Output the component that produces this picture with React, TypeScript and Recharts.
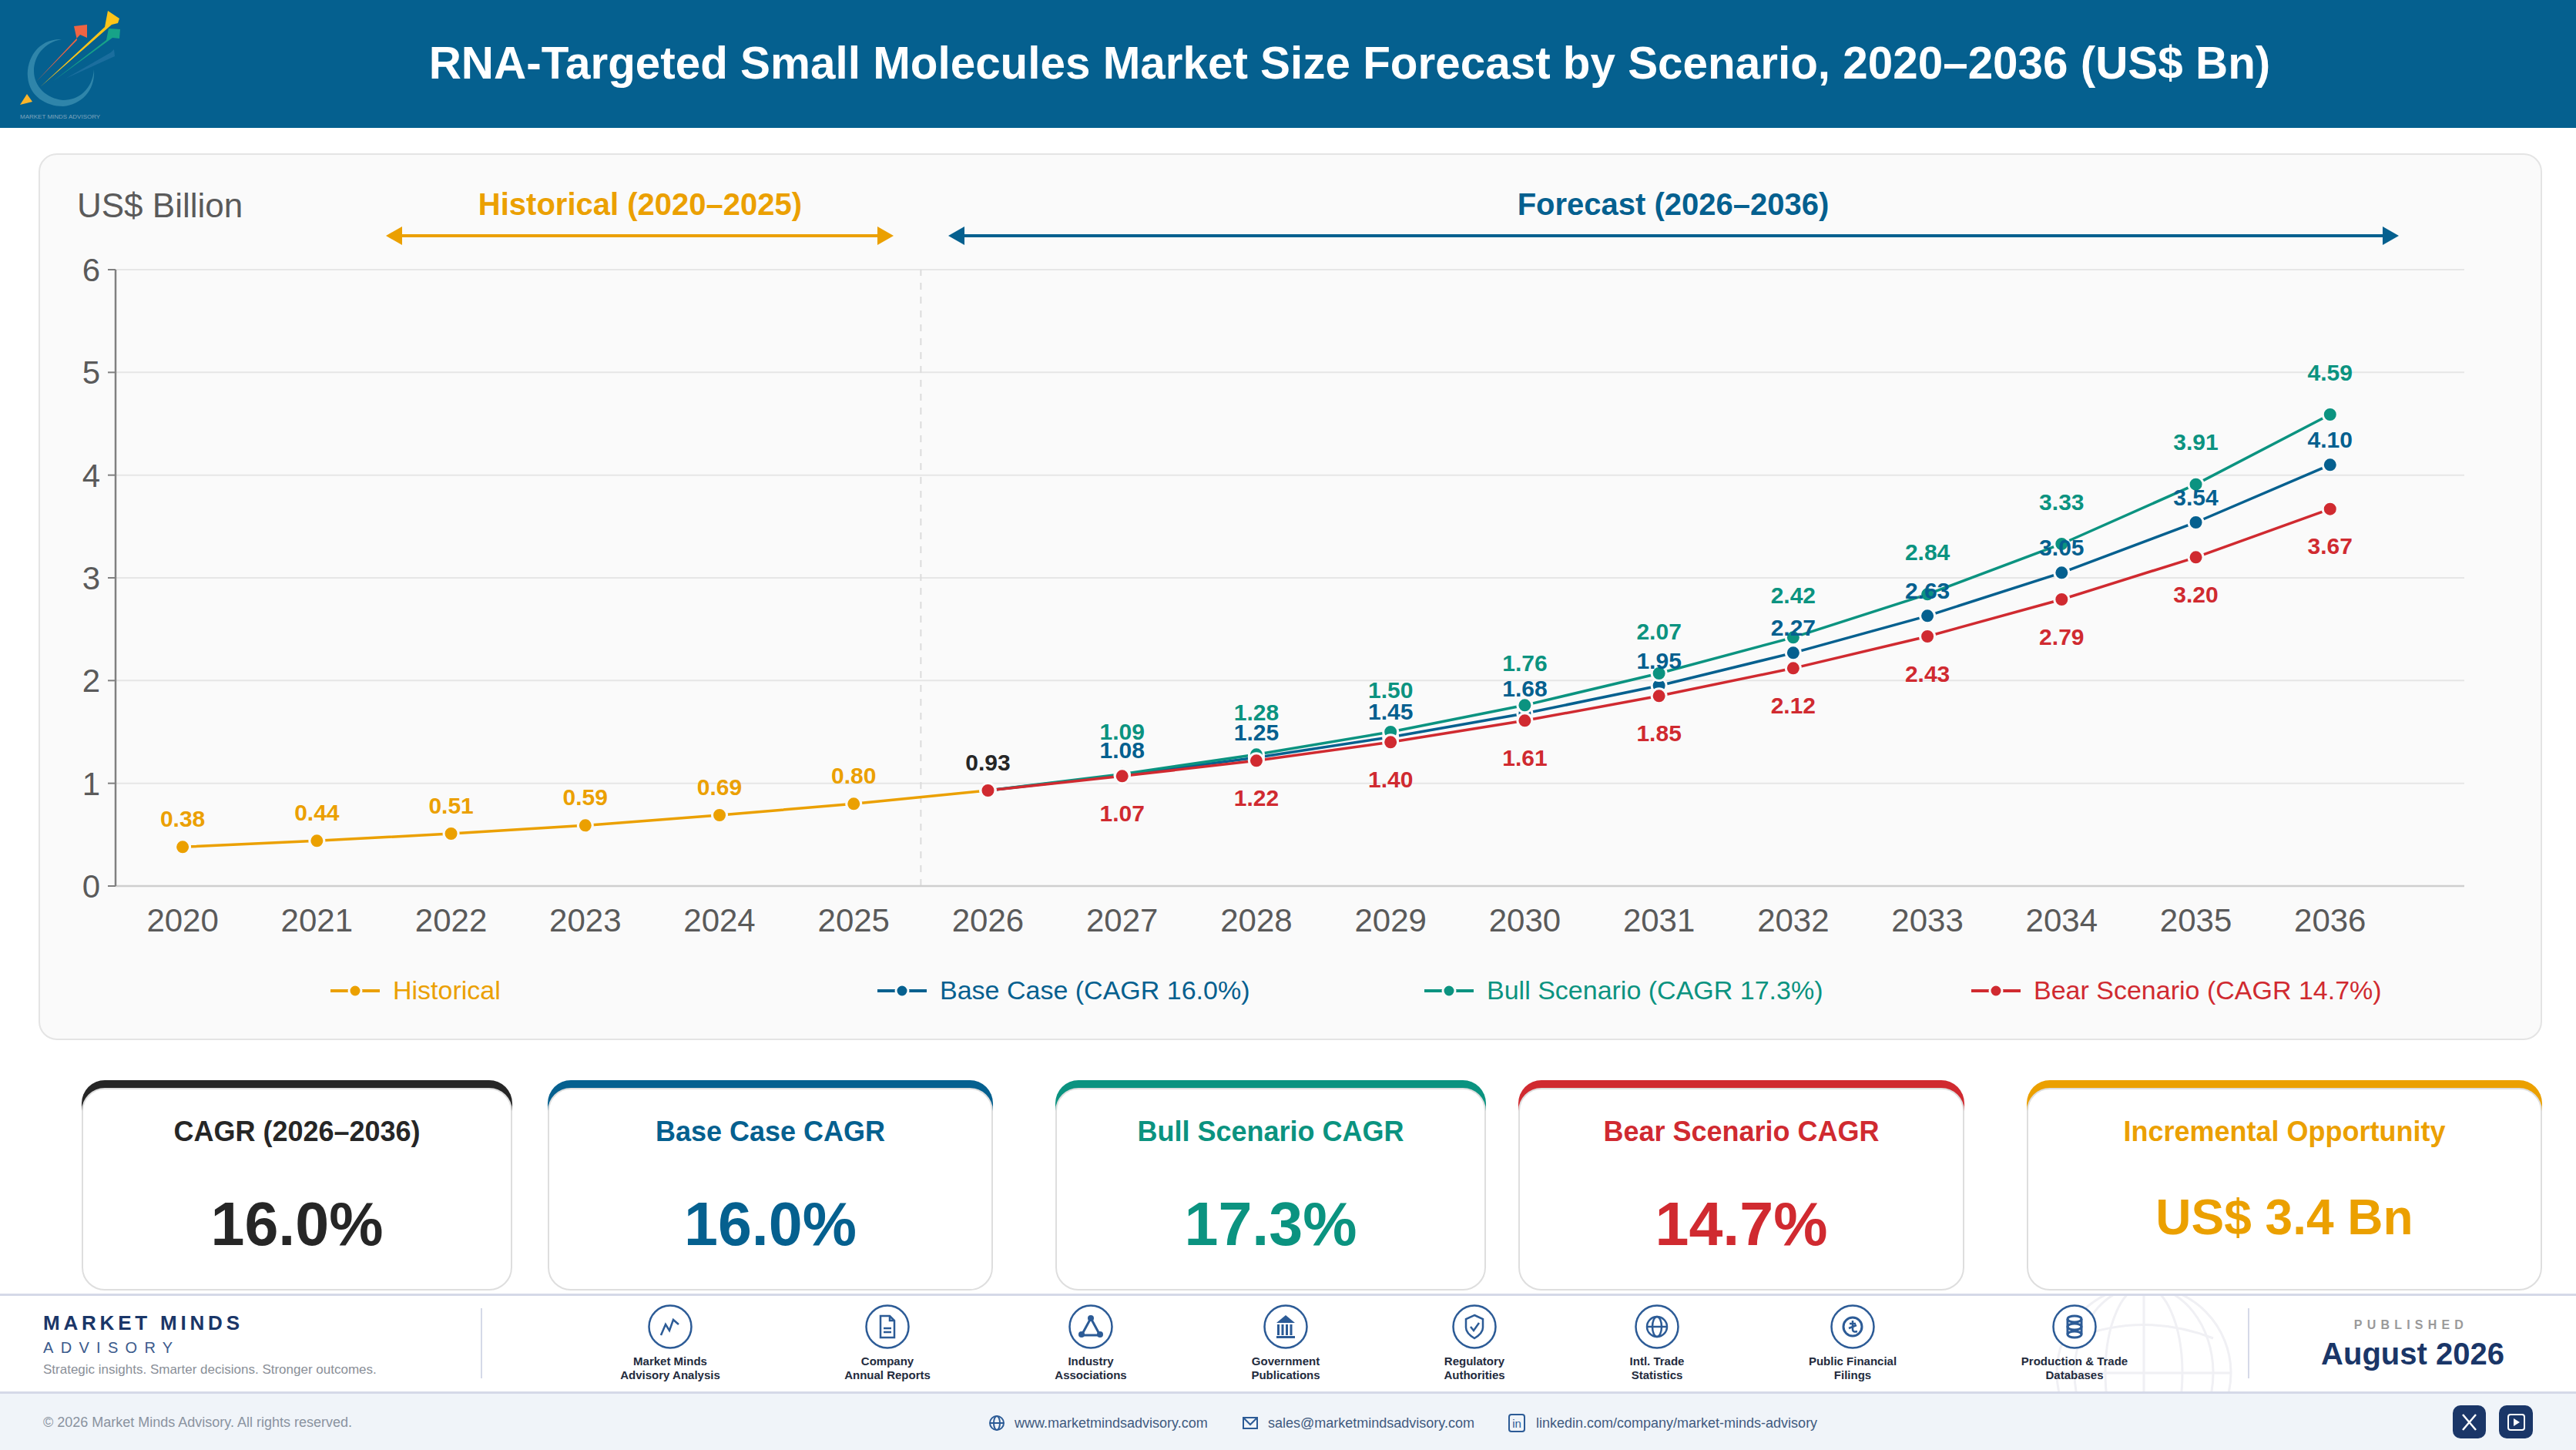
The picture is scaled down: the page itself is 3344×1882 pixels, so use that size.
import React from "react";
import { LineChart, Line, XAxis, YAxis, CartesianGrid, ReferenceLine, Legend, LabelList } from "recharts";

const years = [2020, 2021, 2022, 2023, 2024, 2025, 2026, 2027, 2028, 2029, 2030, 2031, 2032, 2033, 2034, 2035, 2036];
const historical = [0.38, 0.44, 0.51, 0.59, 0.69, 0.8, 0.93, null, null, null, null, null, null, null, null, null, null];
const baseCase = [null, null, null, null, null, null, 0.93, 1.08, 1.25, 1.45, 1.68, 1.95, 2.27, 2.63, 3.05, 3.54, 4.1];
const bullCase = [null, null, null, null, null, null, 0.93, 1.09, 1.28, 1.5, 1.76, 2.07, 2.42, 2.84, 3.33, 3.91, 4.59];
const bearCase = [null, null, null, null, null, null, 0.93, 1.07, 1.22, 1.4, 1.61, 1.85, 2.12, 2.43, 2.79, 3.2, 3.67];
const yTicks = [0, 1, 2, 3, 4, 5, 6];

const FONT = '"Liberation Sans", Arial, sans-serif';
const GOLD = "#eba000";
const BLUE = "#05608f";
const TEAL = "#0b9380";
const RED = "#d02a30";
const INK = "#262626";
const NAVY = "#1a3668";
const ICON = "#2c5b96";

const chartData = years.map((year, i) => ({
  year,
  historical: historical[i],
  base: baseCase[i],
  bull: bullCase[i],
  bear: bearCase[i],
}));

const series = [
  { key: "historical", name: "Historical", color: GOLD, dy: -37 },
  { key: "base", name: "Base Case (CAGR 16.0%)", color: BLUE, dy: -33 },
  { key: "bull", name: "Bull Scenario (CAGR 17.3%)", color: TEAL, dy: -55 },
  { key: "bear", name: "Bear Scenario (CAGR 14.7%)", color: RED, dy: 48 },
];

const cards = [
  { left: 106, right: 665, title: "CAGR (2026–2036)", value: "16.0%", color: INK },
  { left: 711, right: 1289, title: "Base Case CAGR", value: "16.0%", color: BLUE },
  { left: 1370, right: 1929, title: "Bull Scenario CAGR", value: "17.3%", color: TEAL },
  { left: 1971, right: 2550, title: "Bear Scenario CAGR", value: "14.7%", color: RED },
  { left: 2631, right: 3300, title: "Incremental Opportunity", value: "US$ 3.4 Bn", color: GOLD },
];

const sources = [
  { x: 870, lines: ["Market Minds", "Advisory Analysis"], icon: "trend" },
  { x: 1152, lines: ["Company", "Annual Reports"], icon: "doc" },
  { x: 1416, lines: ["Industry", "Associations"], icon: "network" },
  { x: 1669, lines: ["Government", "Publications"], icon: "bank" },
  { x: 1914, lines: ["Regulatory", "Authorities"], icon: "shield" },
  { x: 2151, lines: ["Intl. Trade", "Statistics"], icon: "globe" },
  { x: 2405, lines: ["Public Financial", "Filings"], icon: "coin" },
  { x: 2693, lines: ["Production & Trade", "Databases"], icon: "db" },
];

function SourceIcon({ kind }: { kind: string }) {
  const s = { fill: "none", stroke: ICON, strokeWidth: 2.5 };
  if (kind === "trend") return <path d="M-12 11 L-6 -3 L-1 5 L4 -9 L11 -3" {...s} />;
  if (kind === "doc")
    return (
      <g {...s}>
        <path d="M-9 -14 H3 L9 -8 V14 H-9 Z M3 -14 V-8 H9" />
        <path d="M-5 2 H5 M-5 7 H5" />
      </g>
    );
  if (kind === "network")
    return (
      <g>
        <path d="M0 -11 L-12 11 H12 Z" {...s} strokeWidth={3} />
        <circle cx={0} cy={-11} r={4} fill={ICON} />
        <circle cx={-12} cy={10} r={4} fill={ICON} />
        <circle cx={12} cy={10} r={4} fill={ICON} />
      </g>
    );
  if (kind === "bank")
    return (
      <g fill={ICON}>
        <path d="M0 -15 L12 -5 H-12 Z" />
        <rect x={-11} y={-3} width={3} height={14} />
        <rect x={-5.5} y={-3} width={3} height={14} />
        <rect x={0} y={-3} width={3} height={14} />
        <rect x={5.5} y={-3} width={3} height={14} />
        <rect x={-12} y={12} width={24} height={3} />
      </g>
    );
  if (kind === "shield")
    return (
      <g {...s}>
        <path d="M0 -15 L11 -10 V1 C11 8 5 12 0 15 C-5 12 -11 8 -11 1 V-10 Z" />
        <path d="M-5 0 L-1 5 L6 -5" />
      </g>
    );
  if (kind === "globe")
    return (
      <g {...s}>
        <circle r={13} />
        <ellipse rx={6} ry={13} />
        <path d="M-13 0 H13" />
      </g>
    );
  if (kind === "coin")
    return (
      <g {...s}>
        <circle r={12} strokeWidth={3} />
        <path d="M-4 -4 H4 M0 -8 V3 C0 7 3 7 6 6 M-5 2 L5 -2" />
      </g>
    );
  return (
    <g {...s} strokeWidth={3}>
      <ellipse cy={-10} rx={9} ry={4} />
      <ellipse cy={0} rx={9} ry={4} />
      <ellipse cy={10} rx={9} ry={4} />
      <path d="M-9 -10 V10 M9 -10 V10" />
    </g>
  );
}

function Logo() {
  return (
    <svg width={170} height={166} style={{ position: "absolute", left: 0, top: 0 }}>
      <path d="M80 51 C50 50 34 76 36 100 C38 125 60 138 82 138 C105 136 124 118 122 90 C120 116 102 130 82 130 C60 128 44 112 44 92 C44 72 58 55 80 51 Z" fill="#3a8fb0" opacity={0.8} />
      <path d="M47 106 L100 52 L96 34 L113 32 L113 49 L104 45 Z" fill="#ef6443" />
      <path d="M52 113 L136 35 L140 14 L155 24 L153 30 L145 32 Z" fill="#fcc419" />
      <path d="M68 106 L138 52 L141 37 L156 38 L155 50 L146 49 Z" fill="#17a388" />
      <path d="M85 102 L144 68 L148 64 L149 73 Z" fill="#2a78a8" opacity={0.6} />
      <path d="M26 136 L35 122 L42 132 Z" fill="#fcb52a" />
      <text x={26} y={154} fontSize={8} fill="#7fa5bd" fontFamily={FONT}>
        MARKET MINDS ADVISORY
      </text>
    </svg>
  );
}

function RangeArrow({ x1, x2, color }: { x1: number; x2: number; color: string }) {
  const y = 306;
  return (
    <g fill={color}>
      <rect x={x1 + 10} y={y - 2} width={x2 - x1 - 20} height={4} />
      <path d={`M${x1} ${y} L${x1 + 21} ${y - 12} V${y + 12} Z`} />
      <path d={`M${x2} ${y} L${x2 - 21} ${y - 12} V${y + 12} Z`} />
    </g>
  );
}

function renderLegend() {
  return (
    <div style={{ display: "flex", fontFamily: FONT }}>
      {series.map((item) => (
        <div key={item.key} style={{ width: 710, display: "flex", alignItems: "center", color: item.color, fontSize: 34 }}>
          <svg width={64} height={24} style={{ marginRight: 17 }}>
            <rect x={0} y={10} width={64} height={4} fill={item.color} />
            <circle cx={32} cy={12} r={8} fill={item.color} stroke="#fafafa" strokeWidth={3} />
          </svg>
          {item.name}
        </div>
      ))}
    </div>
  );
}

// the 0.93 hand-off point is labelled once, in ink rather than in the series colour
function valueLabel(key: string, color: string, dy: number) {
  return (props: any) => {
    const x = props.x ?? props.viewBox?.x;
    const y = props.y ?? props.viewBox?.y;
    const value = props.value;
    if (value == null) return null;
    const isStart = years[props.index] === 2026;
    if (isStart && key !== "historical") return null;
    return (
      <text x={x} y={y + dy} dy="0.36em" textAnchor="middle" fontFamily={FONT} fontSize={30} fontWeight={700} fill={isStart ? INK : color}>
        {Number(value).toFixed(2)}
      </text>
    );
  };
}

const abs = (style: React.CSSProperties): React.CSSProperties => ({ position: "absolute", ...style });
const centered = (x: number, y: number, style: React.CSSProperties): React.CSSProperties => ({
  position: "absolute",
  left: x,
  top: y,
  transform: "translate(-50%, -50%)",
  whiteSpace: "nowrap",
  ...style,
});

export default function App() {
  return (
    <div style={abs({ left: 0, top: 0, width: 3344, height: 1882, background: "#fff", overflow: "hidden", fontFamily: FONT })}>
      <div style={abs({ left: 0, top: 0, width: 3344, height: 166, background: BLUE })} />
      <Logo />
      <div style={centered(1752, 81, { color: "#fff", fontSize: 58.4, fontWeight: 700 })}>
        RNA-Targeted Small Molecules Market Size Forecast by Scenario, 2020–2036 (US$ Bn)
      </div>

      <div style={abs({ left: 50, top: 199, width: 3250, height: 1151, background: "#fafafa", border: "2px solid #e4e4e4", borderRadius: 24, boxSizing: "border-box" })} />
      <div style={abs({ left: 100, top: 242, color: "#5a5a5a", fontSize: 44, lineHeight: "50px" })}>US$ Billion</div>
      <div style={centered(831, 265, { color: GOLD, fontSize: 40, fontWeight: 700 })}>Historical (2020–2025)</div>
      <div style={centered(2172, 265, { color: BLUE, fontSize: 40, fontWeight: 700 })}>Forecast (2026–2036)</div>
      <svg width={3344} height={340} style={abs({ left: 0, top: 0 })}>
        <RangeArrow x1={501} x2={1160} color={GOLD} />
        <RangeArrow x1={1231} x2={3114} color={BLUE} />
      </svg>

      <div style={abs({ left: 0, top: 0 })}>
        <LineChart width={3344} height={1400} data={chartData} margin={{ top: 350, right: 145, bottom: 150, left: 50 }}>
          <CartesianGrid horizontal vertical={false} stroke="#e6e6e6" strokeWidth={2} />
          <XAxis
            dataKey="year"
            type="number"
            domain={[2019.5, 2037]}
            ticks={years}
            interval={0}
            height={100}
            tickLine={false}
            tickMargin={23}
            axisLine={{ stroke: "#cfcfcf", strokeWidth: 2.5 }}
            tick={{ fontFamily: FONT, fontSize: 42, fill: "#5a5a5a" }}
          />
          <YAxis
            domain={[0, 6]}
            ticks={yTicks}
            width={100}
            tickSize={10}
            tickMargin={10}
            axisLine={{ stroke: "#808080", strokeWidth: 2.5 }}
            tickLine={{ stroke: "#808080", strokeWidth: 2 }}
            tick={{ fontFamily: FONT, fontSize: 42, fill: "#5a5a5a" }}
          />
          <ReferenceLine x={2025.5} stroke="#dcdcdc" strokeWidth={2} strokeDasharray="9 9" />
          <Legend verticalAlign="middle" layout="horizontal" wrapperStyle={{ left: 429, top: 1266, width: 2840 }} content={renderLegend} />
          {series.map((s) => (
            <Line
              key={s.key}
              dataKey={s.key}
              name={s.name}
              stroke={s.color}
              strokeWidth={3.5}
              dot={{ r: 9.5, fill: s.color, stroke: "#fafafa", strokeWidth: 3 }}
              activeDot={false}
              connectNulls={false}
              isAnimationActive={false}
            />
          ))}
          {series.map((s) => (
            <Line key={`${s.key}-labels`} dataKey={s.key} stroke="none" dot={false} activeDot={false} legendType="none" isAnimationActive={false}>
              <LabelList dataKey={s.key} content={valueLabel(s.key, s.color, s.dy)} />
            </Line>
          ))}
        </LineChart>
      </div>

      {cards.map((c) => (
        <div
          key={c.title}
          style={abs({
            left: c.left,
            top: 1402,
            width: c.right - c.left,
            height: 273,
            borderRadius: 30,
            background: `linear-gradient(${c.color} 60px, transparent 60px)`,
          })}
        >
          <div style={abs({ left: 0, right: 0, top: 10, bottom: 0, background: "#fff", border: "2px solid #dedede", borderRadius: 30, boxSizing: "border-box" })} />
          <div style={centered((c.right - c.left) / 2, 67, { color: c.color, fontSize: 36, fontWeight: 700 })}>{c.title}</div>
          <div style={centered((c.right - c.left) / 2, c.value.length > 6 ? 178 : 187, { color: c.color, fontSize: c.value.length > 6 ? 64 : 79, fontWeight: 700 })}>
            {c.value}
          </div>
        </div>
      ))}

      <div style={abs({ left: 0, top: 1679, width: 3344, height: 3, background: "#d5d9e8" })} />
      <div style={abs({ left: 0, top: 1806, width: 3344, height: 76, background: "#f0f4f9", borderTop: "3px solid #d5d9e8", boxSizing: "border-box" })} />

      <svg width={3344} height={124} style={abs({ left: 0, top: 1682 })}>
        <g fill="none" stroke="#f0f0f4" strokeWidth={3} transform="translate(2783 100)">
          <circle r={113} />
          <ellipse rx={50} ry={113} />
          <ellipse rx={90} ry={113} />
          <path d="M-113 0 H113 M0 -113 V113" />
          <path d="M-90 -45 Q0 -80 90 -45" />
        </g>
        {sources.map((s) => (
          <g key={s.x} transform={`translate(${s.x} 40)`}>
            <circle r={27.5} fill="#fff" stroke={ICON} strokeWidth={2.5} />
            <SourceIcon kind={s.icon} />
          </g>
        ))}
      </svg>
      {sources.map((s) => (
        <div key={s.x} style={abs({ left: s.x - 120, top: 1758, width: 240, textAlign: "center", color: "#232b3d", fontSize: 15, lineHeight: "18px", fontWeight: 700 })}>
          {s.lines[0]}
          <br />
          {s.lines[1]}
        </div>
      ))}

      <div style={abs({ left: 56, top: 1702, color: NAVY, fontSize: 26, lineHeight: "30px", fontWeight: 700, letterSpacing: 4.8 })}>MARKET MINDS</div>
      <div style={abs({ left: 56, top: 1737, color: "#3b5a8c", fontSize: 20, lineHeight: "24px", letterSpacing: 9.3 })}>ADVISORY</div>
      <div style={abs({ left: 56, top: 1767, color: "#8a8f98", fontSize: 17, lineHeight: "22px" })}>Strategic insights. Smarter decisions. Stronger outcomes.</div>
      <div style={abs({ left: 624, top: 1698, width: 2, height: 91, background: "#d5d9e8" })} />
      <div style={abs({ left: 2918, top: 1698, width: 2, height: 91, background: "#d5d9e8" })} />
      <div style={centered(3130, 1720, { color: "#9a9a9a", fontSize: 16, fontWeight: 700, letterSpacing: 6.2 })}>PUBLISHED</div>
      <div style={centered(3132, 1757, { color: NAVY, fontSize: 40, fontWeight: 700 })}>August 2026</div>

      <div style={abs({ left: 56, top: 1835, color: "#8a93a0", fontSize: 18, lineHeight: "22px" })}>© 2026 Market Minds Advisory. All rights reserved.</div>
      <svg width={3344} height={76} style={abs({ left: 0, top: 1806 })}>
        <g fill="none" stroke={ICON} strokeWidth={2} transform="translate(1294 41)">
          <circle r={9} />
          <ellipse rx={4} ry={9} />
          <path d="M-9 0 H9" />
        </g>
        <g fill="none" stroke={ICON} strokeWidth={2} transform="translate(1623 41)">
          <rect x={-9} y={-7} width={18} height={14} />
          <path d="M-9 -7 L0 2 L9 -7" />
        </g>
        <g fill="none" stroke={ICON} strokeWidth={2} transform="translate(1969 41)">
          <rect x={-10} y={-11} width={20} height={22} rx={3} />
        </g>
        <text x={1969} y={47} textAnchor="middle" fontSize={15} fill={ICON} fontFamily={FONT}>in</text>
        <rect x={3184} y={18} width={43} height={43} rx={10} fill={NAVY} />
        <path d="M3197 30 L3214 50 M3214 30 L3197 50" stroke="#fff" strokeWidth={2.5} />
        <rect x={3244} y={18} width={44} height={43} rx={10} fill={NAVY} />
        <rect x={3256} y={30} width={21} height={20} rx={3} fill="none" stroke="#fff" strokeWidth={2} />
        <path d="M3263 35 L3271 40 L3263 45 Z" fill="#fff" />
      </svg>
      <div style={abs({ left: 1317, top: 1836, color: "#3f5a7f", fontSize: 18, lineHeight: "22px" })}>www.marketmindsadvisory.com</div>
      <div style={abs({ left: 1646, top: 1836, color: "#3f5a7f", fontSize: 18, lineHeight: "22px" })}>sales@marketmindsadvisory.com</div>
      <div style={abs({ left: 1994, top: 1836, color: "#3f5a7f", fontSize: 18, lineHeight: "22px" })}>linkedin.com/company/market-minds-advisory</div>
    </div>
  );
}
